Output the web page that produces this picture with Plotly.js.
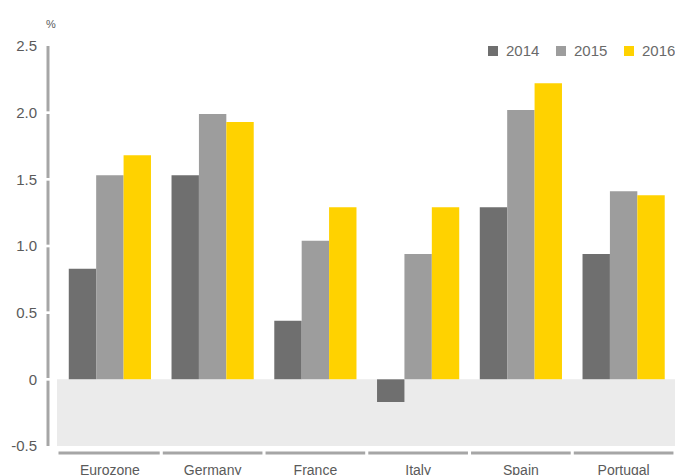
<!DOCTYPE html>
<html>
<head>
<meta charset="utf-8">
<script src="https://cdn.plot.ly/plotly-3.0.1.min.js"></script>
<style>html,body{margin:0;padding:0;background:#fff;}#chart{width:675px;height:475px;}</style>
</head>
<body>
<div id="chart"></div>
<script>
const categories = ["Eurozone", "Germany", "France", "Italy", "Spain", "Portugal"];
const years = ["2014", "2015", "2016"];
const values2014 = [0.83, 1.53, 0.44, -0.17, 1.29, 0.94];
const values2015 = [1.53, 1.99, 1.04, 0.94, 2.02, 1.41];
const values2016 = [1.68, 1.93, 1.29, 1.29, 2.22, 1.38];
const yTicks = [-0.5, 0, 0.5, 1.0, 1.5, 2.0, 2.5];
const yTickLabels = ["-0.5", "0", "0.5", "1.0", "1.5", "2.0", "2.5"];

const colors = ["#6f6f6f", "#9d9d9d", "#ffd200"];
const series = [values2014, values2015, values2016];
const FONT = "Liberation Sans, Arial, sans-serif";

const W = 675, H = 475, ML = 57, MR = 0, MT = 46, MB = 29;
const PW = W - ML - MR, PH = H - MT - MB;
const px2x = px => (px - ML) / PW;
const py2y = py => (H - MB - py) / PH;

const traces = series.map((vals, i) => ({
  type: "bar",
  name: years[i],
  x: categories,
  y: vals,
  marker: {color: colors[i], line: {width: 0}},
  hoverinfo: "x+y+name"
}));

const shapes = [];
shapes.push({type: "rect", xref: "paper", yref: "y", x0: 0, x1: 1, y0: yTicks[0], y1: 0,
  fillcolor: "#ebebeb", line: {width: 0}, layer: "below"});
for (let i = 0; i < yTicks.length - 1; i++) {
  shapes.push({type: "line", xref: "paper", yref: "y", x0: px2x(48), x1: px2x(48),
    y0: yTicks[i] + (i === 0 ? 0 : 0.01), y1: yTicks[i + 1] - (i === yTicks.length - 2 ? 0 : 0.01),
    line: {color: "#a6a6a6", width: 3}});
}
for (let i = 0; i < categories.length; i++) {
  shapes.push({type: "line", xref: "x", yref: "paper", x0: i - 0.5 + (i === 0 ? 0 : 0.015), x1: i + 0.5 - 0.015,
    y0: py2y(453), y1: py2y(453), line: {color: "#a6a6a6", width: 3}});
}

const annotations = [{text: "%", xref: "paper", yref: "paper", x: px2x(50.5), y: py2y(23.5), xanchor: "center", yanchor: "middle",
  showarrow: false, font: {family: FONT, size: 11, color: "#5a5a5a"}}];

// legend drawn as keys + labels (top right)
years.forEach((yr, i) => {
  const sx = 488 + 68 * i;
  shapes.push({type: "rect", xref: "paper", yref: "paper", x0: px2x(sx), x1: px2x(sx + 10),
    y0: py2y(56), y1: py2y(46), fillcolor: colors[i], line: {width: 0}});
  annotations.push({text: yr, xref: "paper", yref: "paper", x: px2x(sx + 16), y: py2y(51),
    xanchor: "left", yanchor: "middle", showarrow: false,
    font: {family: FONT, size: 15, color: "#6a6a6a"}});
});

const layout = {
  width: W, height: H,
  margin: {l: ML, r: MR, t: MT, b: MB, pad: 0},
  paper_bgcolor: "#fff", plot_bgcolor: "rgba(0,0,0,0)",
  font: {family: FONT, color: "#5a5a5a", size: 14},
  barmode: "group", bargap: 0.2, bargroupgap: 0,
  showlegend: false,
  xaxis: {type: "category", showline: false, showgrid: false, zeroline: false,
    ticks: "outside", ticklen: 11, tickcolor: "rgba(0,0,0,0)",
    tickfont: {family: FONT, size: 14, color: "#5a5a5a"}, fixedrange: true},
  yaxis: {range: [yTicks[0], yTicks[yTicks.length - 1]], tickmode: "array", tickvals: yTicks, ticktext: yTickLabels,
    showline: false, showgrid: false, zeroline: false,
    ticks: "outside", ticklen: 16, tickcolor: "rgba(0,0,0,0)",
    tickfont: {family: FONT, size: 15, color: "#5a5a5a"}, fixedrange: true},
  shapes: shapes,
  annotations: annotations
};

Plotly.newPlot("chart", traces, layout, {displayModeBar: false, staticPlot: true});
</script>
</body>
</html>
